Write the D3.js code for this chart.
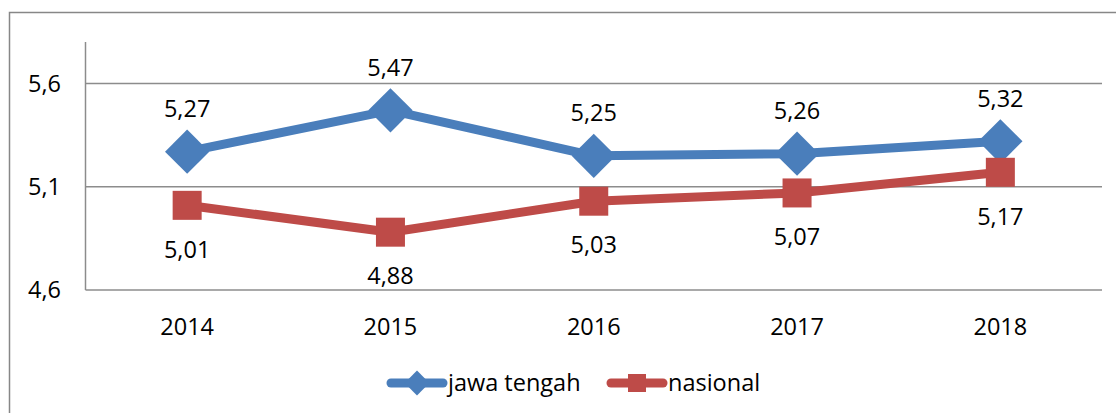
<!DOCTYPE html>
<html>
<head>
<meta charset="utf-8">
<script src="https://cdn.jsdelivr.net/npm/d3@7"></script>
<style>
  body { margin: 0; background: #fff; }
  svg text { font-family: "Open Sans", "Noto Sans", sans-serif; fill: #000; }
</style>
</head>
<body>
<svg id="chart" width="1116" height="413"></svg>
<script>
const years = ['2014', '2015', '2016', '2017', '2018'];
const jawaTengah = [5.27, 5.47, 5.25, 5.26, 5.32];
const nasional = [5.01, 4.88, 5.03, 5.07, 5.17];
const yTicks = [4.6, 5.1, 5.6];

const series = [
  { name: 'jawa tengah', values: jawaTengah, color: '#4a7ebb', marker: 'diamond', labelPos: 'above' },
  { name: 'nasional', values: nasional, color: '#be4b48', marker: 'square', labelPos: 'below' }
];

const svg = d3.select('#chart');
const margin = { top: 42, left: 85.5, right: 14, bottom: 123 };
const width = 1116, height = 413;
const fontSize = '23.5px';

// outer chart frame (cut off at right and bottom)
svg.append('rect')
  .attr('x', 9.5).attr('y', 12.5)
  .attr('width', 1130).attr('height', 420)
  .attr('fill', 'none').attr('stroke', '#878787').attr('stroke-width', 1.5);

const x = d3.scaleBand()
  .domain(years)
  .range([margin.left, width - margin.right]);

const y = d3.scaleLinear()
  .domain([4.6, 5.6])
  .range([290, 83.5]);

const fmt = d => d3.format('.2f')(d).replace('.', ',');
const fmtTick = d => d3.format('.1f')(d).replace('.', ',');

// grid lines
svg.append('g')
  .selectAll('line')
  .data(yTicks)
  .join('line')
  .attr('x1', margin.left).attr('x2', width - margin.right)
  .attr('y1', d => y(d)).attr('y2', d => y(d))
  .attr('stroke', '#8c8c8c').attr('stroke-width', 1.5);

// y axis line
svg.append('line')
  .attr('x1', margin.left).attr('x2', margin.left)
  .attr('y1', margin.top).attr('y2', y(4.6))
  .attr('stroke', '#8c8c8c').attr('stroke-width', 1.5);

// y tick labels
svg.append('g')
  .selectAll('text')
  .data(yTicks)
  .join('text')
  .attr('x', 61).attr('y', d => y(d))
  .attr('dy', '0.35em')
  .attr('text-anchor', 'end')
  .style('font-size', fontSize)
  .text(fmtTick);

// x labels
svg.append('g')
  .selectAll('text')
  .data(years)
  .join('text')
  .attr('x', d => x(d) + x.bandwidth() / 2)
  .attr('y', 327)
  .attr('dy', '0.35em')
  .attr('text-anchor', 'middle')
  .style('font-size', fontSize)
  .text(d => d);

const cx = (d, i) => x(years[i]) + x.bandwidth() / 2;

function drawMarker(sel, type, color, size) {
  if (type === 'diamond') {
    sel.append('path')
      .attr('d', d3.symbol(d3.symbolDiamond2, size * size * 2))
      .attr('fill', color);
  } else {
    sel.append('rect')
      .attr('x', -size / 2).attr('y', -size / 2)
      .attr('width', size).attr('height', size)
      .attr('fill', color);
  }
}

const line = d3.line()
  .x((d, i) => cx(d, i))
  .y(d => y(d));

series.forEach(s => {
  const g = svg.append('g');
  g.append('path')
    .datum(s.values)
    .attr('d', line)
    .attr('fill', 'none')
    .attr('stroke', s.color)
    .attr('stroke-width', 9)
    .attr('stroke-linejoin', 'round');

  g.selectAll('g.mk')
    .data(s.values)
    .join('g')
    .attr('class', 'mk')
    .attr('transform', (d, i) => `translate(${cx(d, i)},${y(d)})`)
    .each(function () {
      drawMarker(d3.select(this), s.marker, s.color, s.marker === 'diamond' ? 25 : 29);
    });

  g.selectAll('text')
    .data(s.values)
    .join('text')
    .attr('x', (d, i) => cx(d, i))
    .attr('y', d => y(d) + (s.labelPos === 'above' ? -43 : 44))
    .attr('dy', '0.35em')
    .attr('text-anchor', 'middle')
    .style('font-size', fontSize)
    .text(fmt);
});

// legend
const legendItems = [
  { s: series[0], x0: 387 },
  { s: series[1], x0: 607 }
];
const ly = 383;
legendItems.forEach(({ s, x0 }) => {
  const g = svg.append('g');
  g.append('line')
    .attr('x1', x0 + 4).attr('x2', x0 + 56)
    .attr('y1', ly).attr('y2', ly)
    .attr('stroke', s.color).attr('stroke-width', 9)
    .attr('stroke-linecap', 'round');
  const m = g.append('g').attr('transform', `translate(${x0 + 30},${ly})`);
  drawMarker(m, s.marker, s.color, s.marker === 'diamond' ? 14 : 18);
  g.append('text')
    .attr('x', x0 + 61).attr('y', ly)
    .attr('dy', '0.35em')
    .style('font-size', fontSize)
    .text(s.name);
});
</script>
</body>
</html>
